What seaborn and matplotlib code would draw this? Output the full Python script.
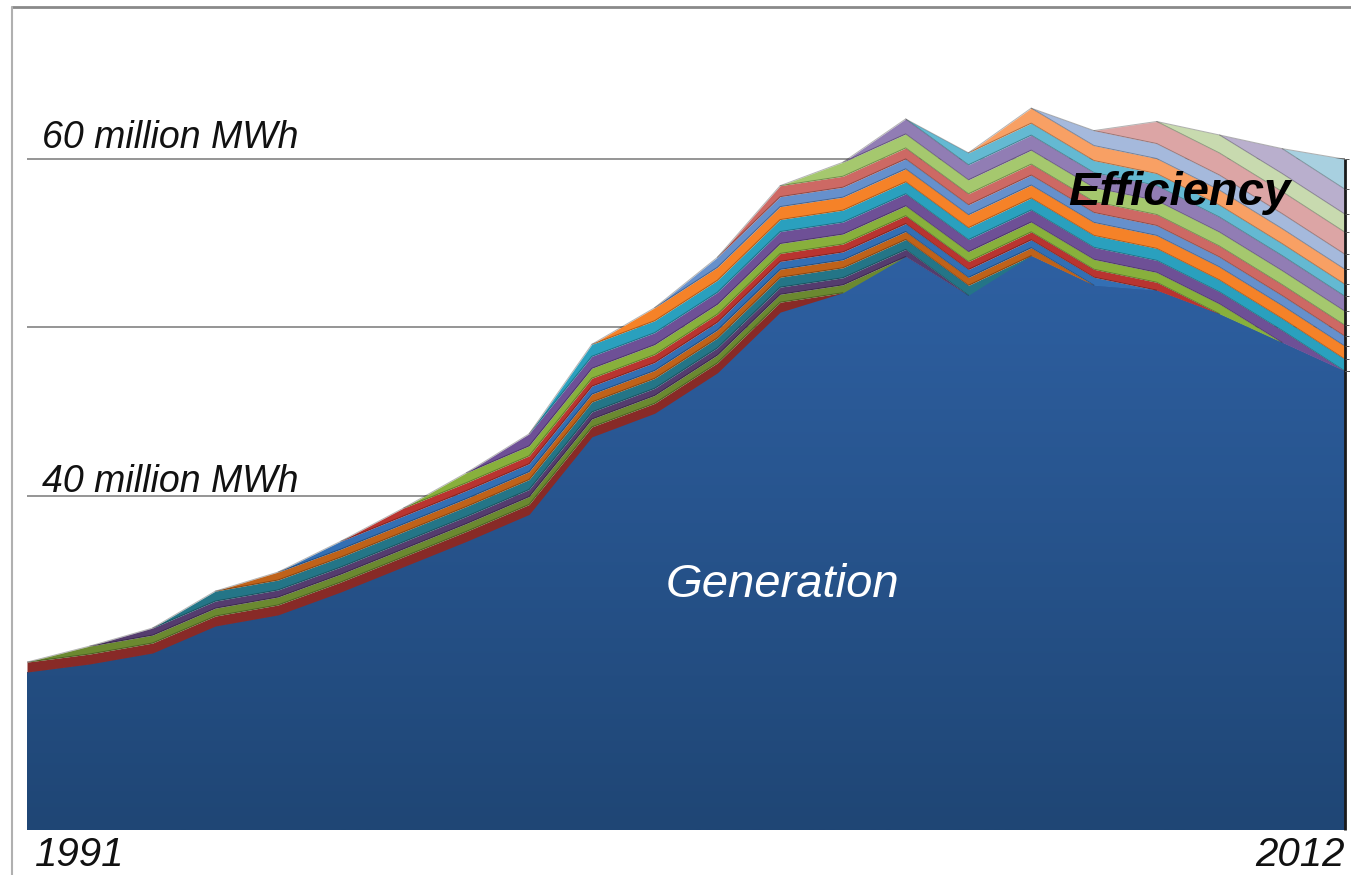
import numpy as np
import pandas as pd
import matplotlib
matplotlib.use("Agg")
import matplotlib.pyplot as plt
import matplotlib.transforms as mtransforms
from matplotlib.colors import LinearSegmentedColormap
from matplotlib.lines import Line2D
import seaborn as sns

# values (million MWh)
years = [1991, 1992, 1993, 1994, 1995, 1996, 1997, 1998, 1999, 2000, 2001,
         2002, 2003, 2004, 2005, 2006, 2007, 2008, 2009, 2010, 2011, 2012]
generation = [29.55, 30.03, 30.68, 32.28, 32.94, 34.3, 35.8, 37.3, 38.9, 43.5, 44.9,
              47.3, 50.9, 52.05, 54.2, 51.9, 54.25, 52.5, 52.2, 50.8, 49.1, 47.4]

# one efficiency layer per program year: annual savings, first and last year counted
savings = [0.59, 0.47, 0.42, 0.59, 0.47, 0.47, 0.47, 0.59, 0.71, 0.71, 0.77,
           0.59, 0.65, 0.83, 0.89, 0.71, 0.89, 0.89, 1.31, 1.07, 1.48, 1.78]
first_year = [1991, 1992, 1993, 1994, 1995, 1996, 1997, 1998, 1999, 2000, 2001,
              2002, 2003, 2004, 2005, 2006, 2007, 2008, 2009, 2010, 2011, 2012]
last_year = [2003, 2004, 2005, 2006, 2007, 2008, 2009, 2010, 2011, 2012, 2013,
             2014, 2015, 2016, 2017, 2018, 2019, 2020, 2021, 2022, 2023, 2024]

layer_colors = ["#882A27", "#6B8930", "#553C6E", "#247587", "#BF6219",
                "#336FB4", "#B93430", "#88B03C", "#6E5096", "#2AA0BE", "#F58228",
                "#6690CC", "#CD6964", "#A5C86E", "#917DB4", "#64B9D2", "#F8A064",
                "#A5B9DC", "#DCA5A5", "#C8DAAF", "#B9AFCD", "#A8D0E0"]

df = pd.DataFrame({"Generation": generation}, index=years)
for i in range(len(savings)):
    df["p%d" % first_year[i]] = [savings[i] if first_year[i] <= y <= last_year[i] else 0.0
                                 for y in years]

sns.set_style("white")
plt.rcParams['font.family'] = ['Liberation Sans', 'DejaVu Sans']

W, H = 1351, 875
fig = plt.figure(figsize=(W / 100, H / 100), dpi=100)
ax = fig.add_axes([27 / W, 1 - 830 / H, 1318 / W, 823 / H])

ybot, ytop = 20.18, 69.0
palette = sns.color_palette(["#2B5C9B"] + layer_colors)
polys = ax.stackplot(df.index, df.T.values, colors=palette, linewidth=0)
polys[0].set_zorder(1)
for p in polys[1:]:
    p.set_zorder(2)

# thin boundary lines, only where a layer actually has thickness
cum = df.cumsum(axis=1)
for col in df.columns[1:]:
    v = df[col].values
    keep = (v > 0) | (np.roll(v, 1) > 0) | (np.roll(v, -1) > 0)
    keep[0] = keep[0] and (v[0] > 0 or v[1] > 0)
    keep[-1] = keep[-1] and (v[-1] > 0 or v[-2] > 0)
    ax.plot(df.index, np.ma.masked_where(~keep, cum[col].values),
            color=(0, 0, 0, 0.3), lw=0.7, zorder=3)

# gradient fill for the generation area
cmap = LinearSegmentedColormap.from_list("gen", ["#1F4675", "#2E60A2"])
grad = np.linspace(0, 1, 256).reshape(-1, 1)
im = ax.imshow(grad, extent=[years[0], years[-1], ybot, max(generation)],
               origin="lower", aspect="auto", cmap=cmap, zorder=1.5)
im.set_clip_path(polys[0].get_paths()[0], transform=ax.transData)

ax.set_xlim(years[0], years[-1])
ax.set_ylim(ybot, ytop)
ax.set_yticks([40, 50, 60])
ax.set_xticks([])
ax.yaxis.grid(True, color="#8c8c8c", lw=1.3)
ax.set_axisbelow(True)
ax.tick_params(length=0, labelleft=False, labelbottom=False)
for s in ax.spines.values():
    s.set_visible(False)

# dark edge at the right end of the stack
total_end = df.iloc[-1].sum()
ax.vlines(years[-1], ybot, total_end, color="#1a1a1a", lw=2, zorder=5, clip_on=False)
ends = np.cumsum(df.iloc[-1].values)
ax.hlines(ends, years[-1], years[-1] + 0.06, color="#555555", lw=0.7, zorder=5, clip_on=False)

blend = mtransforms.blended_transform_factory(ax.transAxes, ax.transData)
ax.text(0.0114, 60.65, "60 million MWh", transform=blend, fontsize=27, style="italic",
        color="#111111", va="baseline")
ax.text(0.0114, 40.24, "40 million MWh", transform=blend, fontsize=27, style="italic",
        color="#111111", va="baseline")
ax.text(0.006, -0.0437, "1991", transform=ax.transAxes, fontsize=29, style="italic",
        color="#111111", va="baseline")
ax.text(1.0, -0.0437, "2012", transform=ax.transAxes, fontsize=29, style="italic",
        color="#111111", va="baseline", ha="right")
ax.text(2003.03, 34.0, "Generation", fontsize=34, style="italic", color="white",
        ha="center", va="baseline", zorder=6)
ax.text(2009.36, 57.27, "Efficiency", fontsize=34, style="italic", weight="bold",
        color="black", ha="center", va="baseline", zorder=6)

# outer chart border (top and left)
fig.add_artist(Line2D([12 / W, 1], [1 - 7 / H, 1 - 7 / H], color="#8a8a8a", lw=2))
fig.add_artist(Line2D([12 / W, 12 / W], [0, 1 - 7 / H], color="#b0b0b0", lw=1.5))

fig.savefig("out.png", dpi=100)
